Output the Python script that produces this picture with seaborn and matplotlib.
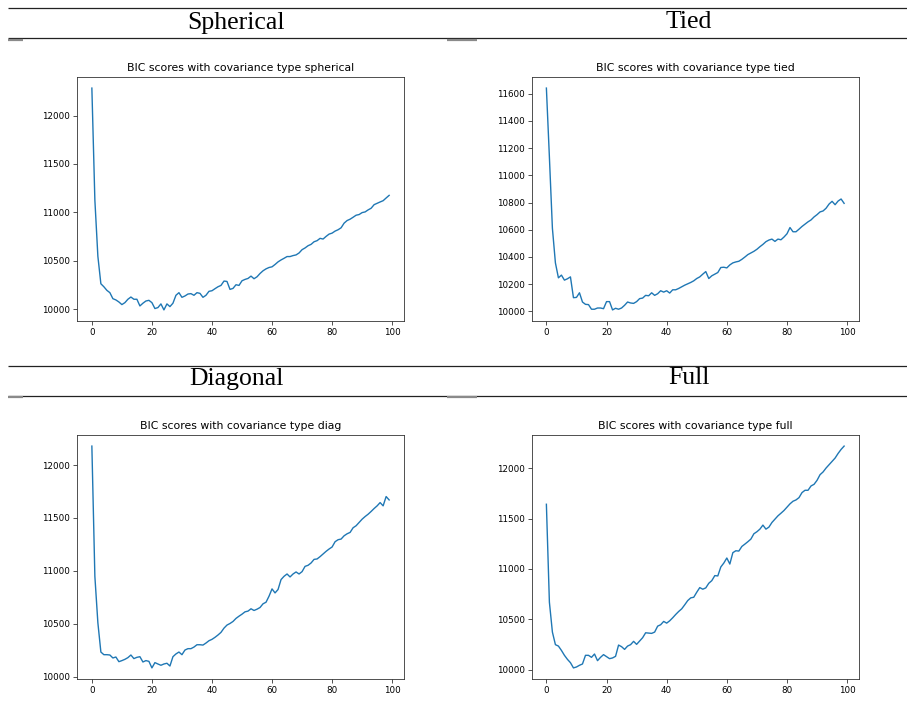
import matplotlib
matplotlib.use("Agg")
import matplotlib.pyplot as plt
from matplotlib.lines import Line2D
import seaborn as sns
import numpy as np

# ---------------- data ----------------
n_components = list(range(100))

bic_spherical = [
    12284, 11128, 10547, 10263, 10232, 10195, 10171, 10109, 10096, 10075,
    10048, 10068, 10103, 10126, 10103, 10103, 10034, 10062, 10085, 10092,
    10068, 10007, 10017, 10055, 9993, 10055, 10027, 10062, 10144, 10171,
    10123, 10137, 10157, 10161, 10144, 10171, 10164, 10123, 10144, 10185,
    10191, 10212, 10232, 10246, 10291, 10287, 10205, 10215, 10253, 10246,
    10294, 10308, 10318, 10342, 10315, 10335, 10369, 10397, 10417, 10431,
    10438, 10462, 10489, 10509, 10526, 10544, 10544, 10554, 10561, 10581,
    10615, 10633, 10656, 10670, 10697, 10708, 10732, 10725, 10752, 10776,
    10786, 10807, 10821, 10841, 10889, 10916, 10930, 10950, 10971, 10978,
    10998, 11005, 11026, 11043, 11080, 11094, 11108, 11121, 11149, 11176,
]

bic_tied = [
    11642, 11135, 10611, 10356, 10246, 10266, 10229, 10239, 10253, 10100,
    10102, 10136, 10068, 10051, 10049, 10015, 10015, 10024, 10024, 10019,
    10071, 10071, 10010, 10022, 10015, 10024, 10044, 10068, 10061, 10058,
    10071, 10093, 10097, 10117, 10114, 10136, 10117, 10129, 10151, 10141,
    10151, 10134, 10158, 10158, 10168, 10180, 10192, 10202, 10212, 10224,
    10241, 10253, 10273, 10292, 10241, 10261, 10273, 10285, 10322, 10324,
    10319, 10341, 10356, 10363, 10368, 10382, 10399, 10417, 10429, 10441,
    10456, 10475, 10492, 10512, 10524, 10531, 10514, 10531, 10526, 10546,
    10570, 10616, 10585, 10585, 10604, 10624, 10641, 10658, 10672, 10694,
    10711, 10731, 10738, 10758, 10789, 10809, 10784, 10811, 10826, 10794,
]

bic_diag = [
    12179, 10948, 10509, 10232, 10207, 10207, 10204, 10176, 10185, 10141,
    10151, 10163, 10179, 10204, 10170, 10182, 10188, 10138, 10151, 10144,
    10082, 10132, 10119, 10107, 10119, 10126, 10100, 10188, 10214, 10232,
    10207, 10251, 10264, 10264, 10279, 10301, 10301, 10298, 10317, 10339,
    10352, 10371, 10393, 10418, 10458, 10487, 10502, 10521, 10550, 10571,
    10590, 10612, 10619, 10641, 10625, 10637, 10653, 10688, 10703, 10760,
    10829, 10791, 10823, 10917, 10948, 10970, 10942, 10970, 10989, 10970,
    10992, 11042, 11052, 11074, 11108, 11112, 11134, 11159, 11184, 11206,
    11225, 11275, 11294, 11300, 11331, 11350, 11363, 11407, 11426, 11457,
    11488, 11513, 11535, 11561, 11589, 11614, 11645, 11614, 11702, 11670,
]

bic_full = [
    11643, 10670, 10373, 10248, 10234, 10191, 10142, 10102, 10069, 10017,
    10026, 10043, 10056, 10142, 10142, 10122, 10155, 10089, 10122, 10149,
    10129, 10109, 10116, 10132, 10244, 10228, 10201, 10234, 10248, 10281,
    10251, 10284, 10317, 10366, 10363, 10360, 10373, 10432, 10446, 10479,
    10462, 10485, 10515, 10548, 10578, 10604, 10644, 10686, 10713, 10719,
    10769, 10815, 10799, 10812, 10858, 10884, 10934, 10931, 11020, 11059,
    11109, 11049, 11162, 11181, 11178, 11224, 11247, 11271, 11297, 11350,
    11370, 11396, 11436, 11396, 11416, 11462, 11495, 11528, 11554, 11581,
    11614, 11647, 11673, 11686, 11709, 11759, 11782, 11782, 11825, 11841,
    11881, 11937, 11964, 12003, 12036, 12069, 12102, 12148, 12188, 12221,
]

headers = ["Spherical", "Tied", "Diagonal", "Full"]
cov_types = ["spherical", "tied", "diag", "full"]
x_ticks = [0, 20, 40, 60, 80, 100]
y_ticks = [
    [10000, 10500, 11000, 11500, 12000],
    [10000, 10200, 10400, 10600, 10800, 11000, 11200, 11400, 11600],
    [10000, 10500, 11000, 11500, 12000],
    [10000, 10500, 11000, 11500, 12000],
]
series = [bic_spherical, bic_tied, bic_diag, bic_full]

# ---------------- figure ----------------
W, H = 907, 717
fig = plt.figure(figsize=(W / 100, H / 100), dpi=100)
fig.patch.set_facecolor("white")


def fx(px):
    return px / W


def fy(py):
    return 1 - py / H


# axes boxes in pixels: (left, top, right, bottom)
boxes = [
    (77, 77, 404, 321),
    (531.5, 77, 859, 321),
    (77, 435, 404, 679),
    (531.5, 435, 859, 679),
]

for i, (l, t, r, b) in enumerate(boxes):
    ax = fig.add_axes([fx(l), fy(b), (r - l) / W, (b - t) / H])
    sns.lineplot(x=n_components, y=series[i], ax=ax, color="#1f77b4", linewidth=1.0)
    ax.set_title(f"BIC scores with covariance type {cov_types[i]}", fontsize=7.8, pad=4)
    ax.set_xticks(x_ticks)
    ax.set_yticks(y_ticks[i])
    ax.tick_params(labelsize=6.3, length=2.6, width=0.6, pad=2.2, color="#333333")
    for s in ax.spines.values():
        s.set_linewidth(0.6)
        s.set_color("#333333")
    ax.set_xlabel("")
    ax.set_ylabel("")

# ---------------- table-like headers ----------------
def hline(y, x0, x1, lw=0.9, color="#222222"):
    fig.add_artist(Line2D([fx(x0), fx(x1)], [fy(y), fy(y)], transform=fig.transFigure,
                          color=color, linewidth=lw, solid_capstyle="butt"))


for (top_y, mid_y, base_y), (h_left, h_right) in [((8, 38.3, 28.5), (headers[0], headers[1])),
                                                  ((366, 395.7, 384.5), (headers[2], headers[3]))]:
    hline(top_y, 8, 907)
    hline(mid_y, 8, 907)
    hline(mid_y + 1.2, 8, 23, lw=1.6, color="#8a8a8a")
    hline(mid_y + 1.2, 447, 477, lw=1.6, color="#8a8a8a")
    fig.text(fx(236), fy(base_y), h_left, ha="center", va="baseline",
             family=["Liberation Serif", "DejaVu Serif"], fontsize=18.5)
    fig.text(fx(689), fy(base_y), h_right, ha="center", va="baseline",
             family=["Liberation Serif", "DejaVu Serif"], fontsize=18.5)

fig.savefig("out.png", dpi=100, facecolor="white")
